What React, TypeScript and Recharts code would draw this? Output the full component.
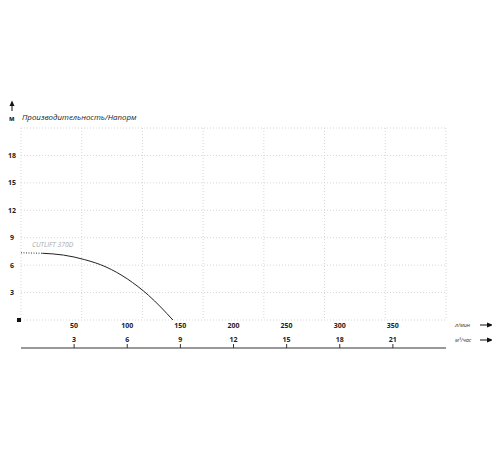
import React from "react";
import { ComposedChart, Line, XAxis, YAxis, CartesianGrid, ReferenceDot } from "recharts";

const flowLpm = [0, 20, 40, 60, 80, 100, 120, 143];
const headM = [7.35, 7.3, 7.1, 6.6, 5.8, 4.5, 2.7, 0];
const dottedUntil = 20;
const lpmTicks = [0, 50, 100, 150, 200, 250, 300, 350, 400];
const m3Labels = ["", "3", "6", "9", "12", "15", "18", "21", ""];
const headTicks = [0, 3, 6, 9, 12, 15, 18, 21];
const seriesName = "CUTLIFT 370D";
const chartTitle = "Производительность/Напорм";
const yUnit = "м";
const lpmUnit = "л/мин";
const m3Unit = "м³/час";

const data = flowLpm.map((q, i) => ({
  q,
  dotted: q <= dottedUntil ? headM[i] : null,
  solid: q >= dottedUntil ? headM[i] : null,
}));

const FONT = "'Open Sans', 'Noto Sans', sans-serif";

const LpmTick = (props: any) => {
  const { x, y, payload } = props;
  if (payload.value === 0 || payload.value === 400) return null;
  return (
    <text x={x} y={y + 5} textAnchor="middle" dominantBaseline="central" fontSize={7} fontWeight={700} fill="#222" fontFamily={FONT}>
      {payload.value}
    </text>
  );
};

const M3Tick = (props: any) => {
  const { x, y, payload } = props;
  const label = m3Labels[lpmTicks.indexOf(payload.value)];
  if (!label) return null;
  return (
    <g>
      <line x1={x} x2={x} y1={y} y2={y - 4} stroke="#333" strokeWidth={1} />
      <text x={x} y={y - 9} textAnchor="middle" dominantBaseline="central" fontSize={7} fontWeight={700} fill="#222" fontFamily={FONT}>
        {label}
      </text>
    </g>
  );
};

const HeadTick = (props: any) => {
  const { x, y, payload } = props;
  if (payload.value === 0 || payload.value === 21) return null;
  return (
    <text x={x - 9} y={y} textAnchor="middle" dominantBaseline="central" fontSize={7} fontWeight={700} fill="#222" fontFamily={FONT}>
      {payload.value}
    </text>
  );
};

const SeriesLabel = (props: any) => {
  const { viewBox } = props;
  const cx = viewBox ? viewBox.x : 0;
  const cy = viewBox ? viewBox.y : 0;
  return (
    <text x={cx + 11} y={cy - 8} fontSize={6.8} fontStyle="italic" fill="#aaa" fontFamily={FONT} dominantBaseline="central">
      {seriesName}
    </text>
  );
};

const Arrow = ({ left, top }: { left: number; top: number }) => (
  <svg style={{ position: "absolute", left, top }} width={14} height={6}>
    <line x1={0} y1={3} x2={9} y2={3} stroke="#111" strokeWidth={1} />
    <polygon points="7,0.5 13,3 7,5.5" fill="#111" />
  </svg>
);

export default function App() {
  return (
    <div style={{ position: "relative", width: 500, height: 450, margin: -8, fontFamily: FONT }}>
      <div style={{ position: "absolute", left: 8, top: 8 }}>
        <ComposedChart width={500} height={450} data={data} margin={{ top: 120, right: 62, bottom: 90, left: 0 }}>
          <CartesianGrid stroke="#d6d6d6" strokeDasharray="1 2" />
          <XAxis
            xAxisId="lpm"
            dataKey="q"
            type="number"
            domain={[0, 400]}
            allowDataOverflow
            ticks={lpmTicks}
            interval={0}
            axisLine={false}
            tickLine={false}
            tickSize={0}
            tickMargin={0}
            height={28}
            tick={<LpmTick />}
          />
          <XAxis
            xAxisId="m3"
            dataKey="q"
            type="number"
            domain={[0, 400]}
            allowDataOverflow
            ticks={lpmTicks}
            interval={0}
            axisLine={{ stroke: "#333", strokeWidth: 1 }}
            tickLine={false}
            tickSize={0}
            tickMargin={0}
            height={20}
            tick={<M3Tick />}
          />
          <YAxis
            type="number"
            domain={[0, 21]}
            allowDataOverflow
            ticks={headTicks}
            interval={0}
            axisLine={false}
            tickLine={false}
            tickSize={0}
            tickMargin={0}
            width={13}
            tick={<HeadTick />}
          />
          <Line xAxisId="lpm" type="monotone" dataKey="dotted" stroke="#333" strokeWidth={1} strokeDasharray="1 1.5" dot={false} isAnimationActive={false} connectNulls={false} />
          <Line xAxisId="lpm" type="monotone" dataKey="solid" stroke="#222" strokeWidth={1} dot={false} isAnimationActive={false} connectNulls={false} />
          <ReferenceDot xAxisId="lpm" x={flowLpm[0]} y={headM[0]} r={0} stroke="none" fill="none" label={<SeriesLabel />} />
        </ComposedChart>
      </div>
      <div style={{ position: "absolute", left: 22, top: 111, fontSize: 7.9, fontStyle: "italic", color: "#222", whiteSpace: "nowrap", lineHeight: "12px" }}>
        {chartTitle}
      </div>
      <div style={{ position: "absolute", left: 9, top: 115, fontSize: 6.5, fontWeight: 700, color: "#222", lineHeight: "8px" }}>{yUnit}</div>
      <svg style={{ position: "absolute", left: 8, top: 100 }} width={8} height={12}>
        <line x1={4} y1={3} x2={4} y2={11} stroke="#111" strokeWidth={1} />
        <polygon points="1.5,6 4,0.5 6.5,6" fill="#111" />
      </svg>
      <div style={{ position: "absolute", left: 17, top: 318, width: 4, height: 4, background: "#111" }} />
      <div style={{ position: "absolute", left: 455, top: 321, fontSize: 5.5, fontStyle: "italic", color: "#333", lineHeight: "8px" }}>{lpmUnit}</div>
      <div style={{ position: "absolute", left: 455, top: 336, fontSize: 5.5, fontStyle: "italic", color: "#333", lineHeight: "8px" }}>{m3Unit}</div>
      <Arrow left={480} top={322} />
      <Arrow left={480} top={337} />
    </div>
  );
}
